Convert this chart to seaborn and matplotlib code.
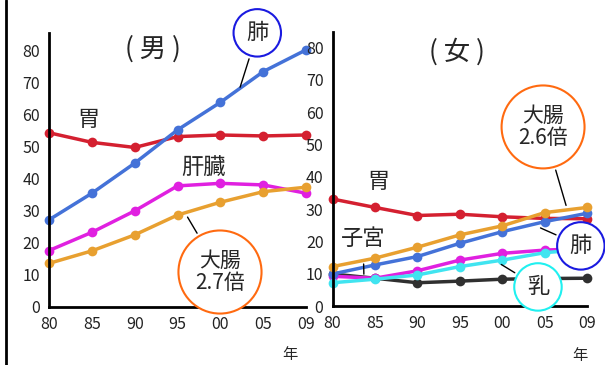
import matplotlib.pyplot as plt
import seaborn as sns
import pandas as pd
from matplotlib.lines import Line2D

years = ['80', '85', '90', '95', '00', '05', '09']

# 男
male_stomach = [54.3, 51.3, 49.7, 53.1, 53.6, 53.3, 53.6]
male_liver = [17.5, 23.2, 29.9, 37.7, 38.5, 38.0, 35.4]
male_colon = [13.5, 17.4, 22.4, 28.6, 32.6, 35.9, 37.3]
male_lung = [27.1, 35.4, 44.8, 55.2, 63.8, 73.4, 80.2]

# 女
female_uterus = [9.9, 8.6, 7.2, 7.7, 8.3, 8.5, 8.6]
female_stomach = [33.1, 30.5, 28.0, 28.4, 27.6, 27.1, 27.0]
female_liver = [9.2, 8.6, 10.9, 14.2, 16.3, 17.3, 17.8]
female_breast = [7.2, 8.3, 9.6, 12.2, 14.2, 16.5, 17.6]
female_lung = [9.9, 12.7, 15.3, 19.4, 23.0, 26.1, 28.7]
female_colon = [12.2, 14.8, 18.2, 22.0, 24.8, 28.9, 30.5]

colors = {'胃': '#d42030', '肝臓': '#e020e0', '大腸': '#e8a030', '肺': '#4472d8',
          '子宮': '#303030', '乳': '#40e4f0'}

sns.set_style('white')
plt.rcParams['font.family'] = ['Noto Sans CJK JP', 'DejaVu Sans']


def long_df(series):
    rows = []
    for name, vals in series.items():
        for i, v in enumerate(vals):
            rows.append({'x': i, 'value': v, 'site': name})
    return pd.DataFrame(rows)


male_df = long_df({'胃': male_stomach, '肝臓': male_liver, '大腸': male_colon, '肺': male_lung})
female_df = long_df({'子宮': female_uterus, '胃': female_stomach, '肝臓': female_liver,
                     '乳': female_breast, '肺': female_lung, '大腸': female_colon})

fig = plt.figure(figsize=(6.05, 3.65), dpi=100)
ax1 = fig.add_axes([0.081, 0.160, 0.425, 0.750])
ax2 = fig.add_axes([0.5496, 0.1616, 0.421, 0.751])


def draw(ax, df, order, top):
    sns.lineplot(data=df, x='x', y='value', hue='site', hue_order=order,
                 palette=colors, marker='o', markersize=7, markeredgewidth=0,
                 linewidth=2.5, legend=False, clip_on=False, ax=ax)
    ax.set_xlim(0, 6)
    ax.set_ylim(0, top)
    ax.set_xticks(range(7))
    ax.set_xticklabels(years)
    ax.set_yticks(range(0, 81, 10))
    ax.set_xlabel('')
    ax.set_ylabel('')
    for s in ['top', 'right']:
        ax.spines[s].set_visible(False)
    for s in ['left', 'bottom']:
        ax.spines[s].set_linewidth(2)
        ax.spines[s].set_color('black')
    ax.tick_params(direction='inout', length=5, width=1.5, labelsize=11.5,
                   labelcolor='#222222', pad=4)


draw(ax1, male_df, ['胃', '肝臓', '大腸', '肺'], 85.5)
draw(ax2, female_df, ['子宮', '胃', '肝臓', '乳', '肺', '大腸'], 84.8)

line_kw = dict(arrowstyle='-', color='black', lw=1)
blue_circle = dict(boxstyle='circle,pad=0.55', fc='white', ec='#1a1ae0', lw=1.5)
orange_circle = dict(boxstyle='circle,pad=0.8', fc='white', ec='#ff6a10', lw=1.5)
cyan_circle = dict(boxstyle='circle,pad=0.55', fc='white', ec='#20f0f0', lw=1.5)

# 男 labels
ax1.text(2.43, 80.5, '( 男 )', fontsize=19, ha='center', va='center')
ax1.text(0.91, 58.3, '胃', fontsize=16, ha='center', va='center')
ax1.text(3.6, 43.4, '肝臓', fontsize=16, ha='center', va='center')
ax1.annotate('肺', xy=(4.44, 67.7), xytext=(4.86, 85.5), fontsize=16,
             ha='center', va='center', annotation_clip=False,
             bbox=blue_circle, arrowprops=line_kw)
ax1.annotate('大腸\n2.7倍', xy=(3.2, 28.7), xytext=(3.99, 10.8), fontsize=15,
             ha='center', va='center', linespacing=1.0, annotation_clip=False,
             bbox=orange_circle, arrowprops=line_kw)
ax1.text(0.938, -0.176, '年', transform=ax1.transAxes, fontsize=11, ha='center', va='center')

# 女 labels
ax2.text(2.93, 78.6, '( 女 )', fontsize=19, ha='center', va='center')
ax2.text(1.09, 38.4, '胃', fontsize=16, ha='center', va='center')
ax2.annotate('子宮', xy=(0.74, 9.0), xytext=(0.72, 21.0), fontsize=16,
             ha='center', va='center', arrowprops=dict(line_kw, shrinkA=8))
ax2.annotate('大腸\n2.6倍', xy=(5.52, 30.3), xytext=(4.96, 55.4), fontsize=15,
             ha='center', va='center', linespacing=1.0, annotation_clip=False,
             bbox=orange_circle, arrowprops=line_kw)
ax2.annotate('肺', xy=(4.84, 24.5), xytext=(5.85, 18.6), fontsize=16,
             ha='center', va='center', annotation_clip=False,
             bbox=blue_circle, arrowprops=line_kw)
ax2.annotate('乳', xy=(3.92, 13.3), xytext=(4.84, 5.9), fontsize=16,
             ha='center', va='center', annotation_clip=False,
             bbox=cyan_circle, arrowprops=line_kw)
ax2.text(0.971, -0.179, '年', transform=ax2.transAxes, fontsize=11, ha='center', va='center')

fig.add_artist(Line2D([0.0107, 0.0107], [0, 1], transform=fig.transFigure, color='black', lw=2))

fig.savefig('out.png', dpi=100)
